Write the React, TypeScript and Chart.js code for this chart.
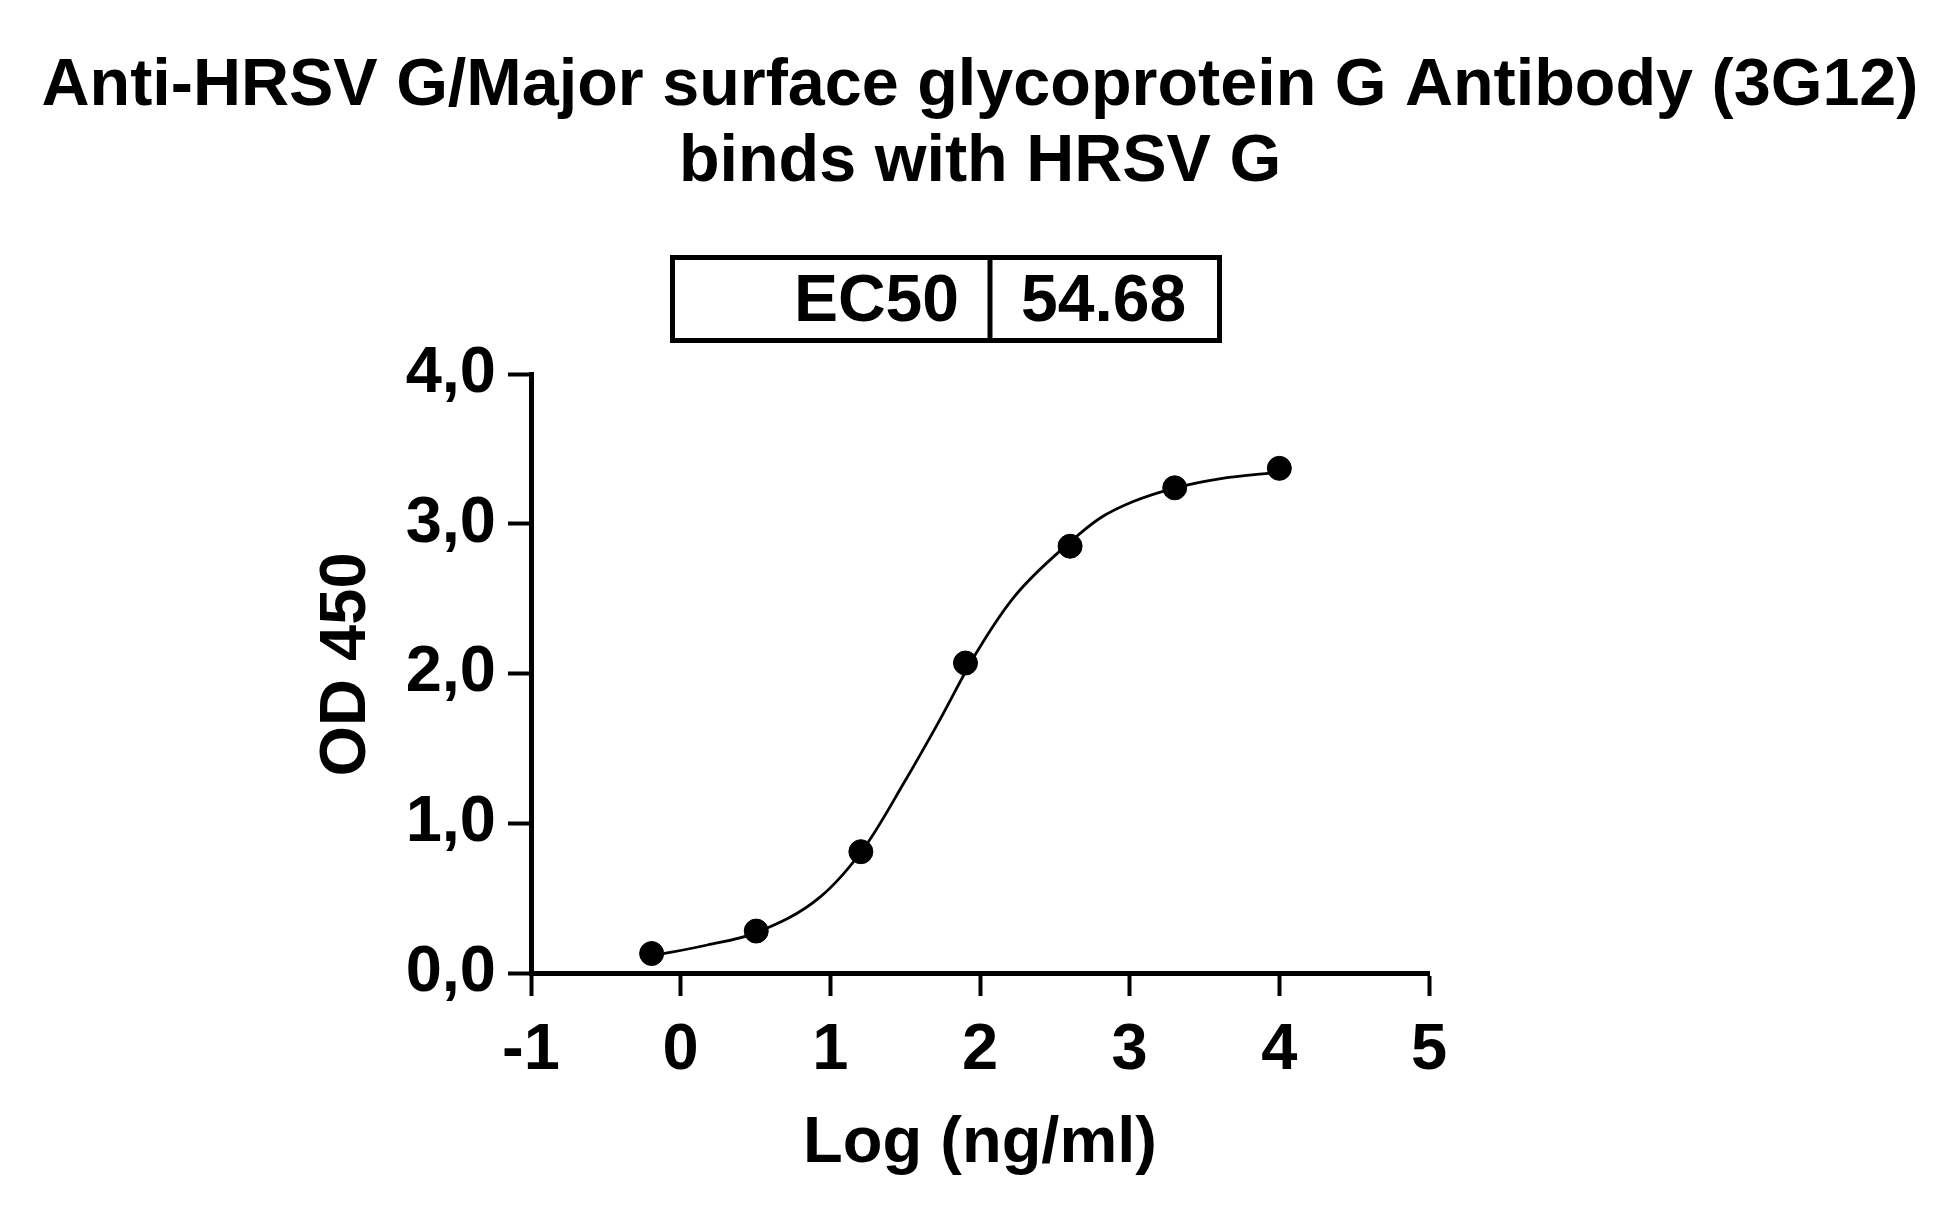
import React, { useEffect, useRef } from "react";
import { Chart, registerables } from "chart.js";

Chart.register(...registerables);

const TITLE_LINES = [
  "Anti-HRSV G/Major surface glycoprotein G Antibody (3G12)",
  "binds with HRSV G",
];
const X_TITLE = "Log (ng/ml)";
const Y_TITLE = " OD 450";
const EC50_LABEL = "EC50";
const EC50_VALUE = "54.68";

// measured points (log10 concentration, OD450)
const logConc = [-0.194, 0.505, 1.204, 1.903, 2.602, 3.301, 4.0];
const od450 = [0.13, 0.28, 0.81, 2.07, 2.85, 3.24, 3.37];

// fitted curve
const curveX = [-0.194, 0.178, 0.501, 0.935, 1.236, 1.492, 1.715, 1.971, 2.227, 2.605, 2.806, 3.028, 3.307, 3.6, 4.0];
const curveY = [0.115, 0.187, 0.268, 0.51, 0.85, 1.27, 1.66, 2.13, 2.51, 2.88, 3.04, 3.15, 3.24, 3.3, 3.345];

const xTicks = [-1, 0, 1, 2, 3, 4, 5];
const yTicks = [0, 1, 2, 3, 4];

const FONT = "'Liberation Sans', Arial, Helvetica, sans-serif";

export default function App() {
  const ref = useRef<HTMLCanvasElement | null>(null);

  useEffect(() => {
    if (!ref.current) return;
    const decorPlugin = {
      id: "decor",
      afterDraw(chart: any) {
        const ctx = chart.ctx;
        ctx.save();
        // title
        ctx.fillStyle = "#000";
        ctx.font = `bold 66.5px ${FONT}`;
        ctx.textAlign = "center";
        ctx.textBaseline = "alphabetic";
        ctx.fillText(TITLE_LINES[0], 980, 105);
        ctx.fillText(TITLE_LINES[1], 980, 181);
        // EC50 box
        ctx.strokeStyle = "#000";
        ctx.lineWidth = 5;
        ctx.strokeRect(672.5, 257.5, 547, 83);
        ctx.beginPath();
        ctx.moveTo(990, 257.5);
        ctx.lineTo(990, 340.5);
        ctx.stroke();
        ctx.font = `bold 66px ${FONT}`;
        ctx.textAlign = "right";
        ctx.fillText(EC50_LABEL, 959, 321);
        ctx.textAlign = "left";
        ctx.fillText(EC50_VALUE, 1021, 321);
        ctx.restore();
      },
    };

    const chart = new Chart(ref.current, {
      type: "scatter",
      data: {
        datasets: [
          {
            type: "line",
            label: "fit",
            data: curveX.map((x, i) => ({ x, y: curveY[i] })),
            borderColor: "#000",
            borderWidth: 2.8,
            pointRadius: 0,
            cubicInterpolationMode: "monotone",
            fill: false,
          } as any,
          {
            label: "data",
            data: logConc.map((x, i) => ({ x, y: od450[i] })),
            backgroundColor: "#000",
            borderColor: "#000",
            pointRadius: 12,
            pointHoverRadius: 12,
          },
        ],
      },
      options: {
        responsive: false,
        animation: false,
        events: [],
        layout: { padding: { top: 374, left: 300, right: 531, bottom: 35 } },
        plugins: {
          legend: { display: false },
          tooltip: { enabled: false },
          title: { display: false },
        },
        scales: {
          x: {
            type: "linear",
            min: -1,
            max: 5,
            afterFit(scale: any) {
              scale.height = 212;
            },
            afterBuildTicks(scale: any) {
              scale.ticks = xTicks.map((v) => ({ value: v }));
            },
            ticks: {
              color: "#000",
              font: { family: FONT, size: 65, weight: "bold" },
              padding: 16,
              autoSkip: false,
              maxRotation: 0,
              minRotation: 0,
              callback: (v: any) => String(v),
            },
            grid: {
              display: true,
              drawOnChartArea: false,
              drawTicks: true,
              tickLength: 23,
              tickWidth: 4,
              tickColor: "#000",
            },
            border: { display: true, color: "#000", width: 5 },
            title: {
              display: true,
              text: X_TITLE,
              color: "#000",
              font: { family: FONT, size: 65, weight: "bold" },
              padding: { top: 0, bottom: 2 },
            },
          },
          y: {
            type: "linear",
            min: 0,
            max: 4,
            afterFit(scale: any) {
              scale.width = 231;
            },
            afterBuildTicks(scale: any) {
              scale.ticks = yTicks.map((v) => ({ value: v }));
            },
            ticks: {
              color: "#000",
              font: { family: FONT, size: 65, weight: "bold" },
              padding: 12,
              callback: (v: any) => Number(v).toFixed(1).replace(".", ","),
            },
            grid: {
              display: true,
              drawOnChartArea: false,
              drawTicks: true,
              tickLength: 23,
              tickWidth: 4,
              tickColor: "#000",
            },
            border: { display: true, color: "#000", width: 5 },
            title: {
              display: true,
              text: Y_TITLE,
              color: "#000",
              font: { family: FONT, size: 65, weight: "bold" },
              padding: { top: 8, bottom: 0 },
            },
          },
        },
      },
      plugins: [decorPlugin],
    });
    return () => chart.destroy();
  }, []);

  return (
    <div style={{ position: "fixed", left: 0, top: 0, width: 1960, height: 1220, background: "#fff" }}>
      <canvas ref={ref} width={1960} height={1220} style={{ width: 1960, height: 1220 }} />
    </div>
  );
}
